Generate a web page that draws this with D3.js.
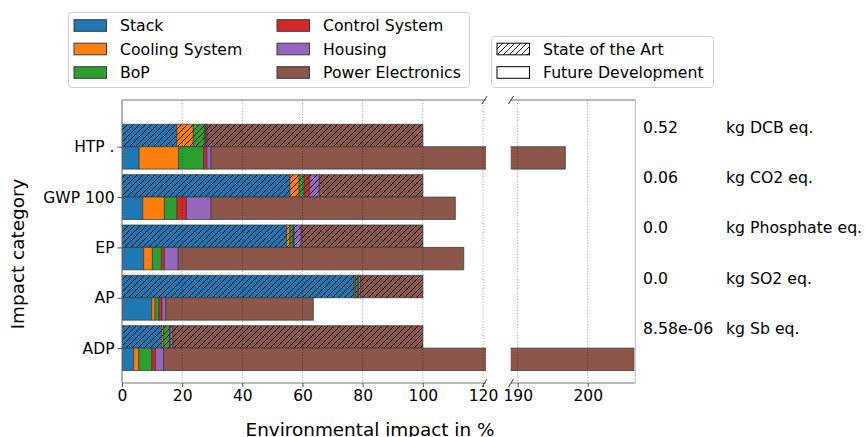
<!DOCTYPE html>
<html>
<head>
<meta charset="utf-8">
<script src="https://cdn.jsdelivr.net/npm/d3@7"></script>
<style>
  html, body { margin: 0; padding: 0; background: #fff; }
  svg { display: block; font-family: "DejaVu Sans", sans-serif; }
</style>
</head>
<body>
<svg id="chart" width="866" height="437"></svg>
<script>
// Impact categories (top to bottom)
const categories = ["HTP .", "GWP 100", "EP", "AP", "ADP"];
const components = ["Stack", "Cooling System", "BoP", "Control System", "Housing", "Power Electronics"];
const componentColors = ["#1f77b4", "#ff7f0e", "#2ca02c", "#d62728", "#9467bd", "#8c564b"];

// State of the Art shares, % (each row sums to 100)
const sotaStack   = [18.2, 55.8, 54.7, 77.2, 13.2];
const sotaCooling = [5.5, 3.1, 1.1, 0.4, 0.6];
const sotaBoP     = [3.8, 1.7, 1.1, 0.8, 2.0];
const sotaControl = [0.3, 1.7, 0.3, 0.2, 0.2];
const sotaHousing = [0.4, 3.3, 2.4, 0.7, 0.9];
const sotaPower   = [71.8, 34.4, 40.4, 20.7, 83.1];

// Future Development shares, % relative to State of the Art
const futStack   = [5.7, 6.9, 7.2, 9.9, 3.9];
const futCooling = [13.1, 7.2, 2.9, 1.1, 1.7];
const futBoP     = [8.3, 4.2, 3.0, 1.3, 4.3];
const futControl = [1.1, 3.1, 1.0, 1.0, 1.2];
const futHousing = [1.4, 8.2, 4.6, 1.3, 2.7];
const futPower   = [167.2, 81.2, 94.9, 49.0, 192.8];

// Absolute State of the Art impact per category
const absValues = ["0.52", "0.06", "0.0", "0.0", "8.58e-06"];
const absUnits  = ["kg DCB eq.", "kg CO2 eq.", "kg Phosphate eq.", "kg SO2 eq.", "kg Sb eq."];

// Axis ticks for the broken x axis
const leftTicks  = [0, 20, 40, 60, 80, 100, 120];
const rightTicks = [190, 200];

const sotaSeries = [sotaStack, sotaCooling, sotaBoP, sotaControl, sotaHousing, sotaPower];
const futSeries  = [futStack, futCooling, futBoP, futControl, futHousing, futPower];

const svg = d3.select("#chart");
const FONT_TICK = 15.5;
const FONT_LEG = 15.7;
const FONT_LABEL = 18.4;

// Layout
const plotTop = 100, plotBottom = 383;
const xLeft  = d3.scaleLinear().domain([0, 121]).range([122, 486]);
const xRight = d3.scaleLinear().domain([189, 206.8]).range([510.7, 635.3]);
const y = d3.scaleLinear().domain([-0.9275, 4.693]).range([plotTop, plotBottom]);
const barH = 0.445;

// Hatch patterns
const defs = svg.append("defs");
function hatch(id, color) {
  const p = defs.append("pattern")
    .attr("id", id).attr("patternUnits", "userSpaceOnUse")
    .attr("width", 6).attr("height", 6);
  p.append("rect").attr("width", 6).attr("height", 6).attr("fill", color);
  p.append("path").attr("d", "M0,6 L6,0 M-1.5,1.5 L1.5,-1.5 M4.5,7.5 L7.5,4.5")
    .attr("stroke", "#000").attr("stroke-width", 0.9);
}
componentColors.forEach((c, i) => hatch("h" + i, c));
hatch("hwhite", "#fff");

// Clip paths for the two panels
defs.append("clipPath").attr("id", "clipL").append("rect")
  .attr("x", xLeft.range()[0]).attr("y", plotTop).attr("width", xLeft.range()[1] - xLeft.range()[0]).attr("height", plotBottom - plotTop);
defs.append("clipPath").attr("id", "clipR").append("rect")
  .attr("x", xRight.range()[0]).attr("y", plotTop).attr("width", xRight.range()[1] - xRight.range()[0]).attr("height", plotBottom - plotTop);

// Build stacked segments
const segments = [];
categories.forEach((cat, i) => {
  let acc = 0;
  sotaSeries.forEach((s, k) => {
    segments.push({ i, k, x0: acc, x1: acc + s[i], y0: i - barH, y1: i, hatched: true });
    acc += s[i];
  });
  acc = 0;
  futSeries.forEach((s, k) => {
    segments.push({ i, k, x0: acc, x1: acc + s[i], y0: i, y1: i + barH, hatched: false });
    acc += s[i];
  });
});

function drawPanel(x, clipId) {
  const g = svg.append("g").attr("clip-path", `url(#${clipId})`);
  g.selectAll("rect").data(segments).join("rect")
    .attr("x", d => x(d.x0))
    .attr("width", d => Math.max(0, x(d.x1) - x(d.x0)))
    .attr("y", d => y(d.y0))
    .attr("height", d => y(d.y1) - y(d.y0))
    .attr("fill", d => d.hatched ? `url(#h${d.k})` : componentColors[d.k])
    .attr("stroke", "#3a3a3a").attr("stroke-opacity", 0.75).attr("stroke-width", 1);
}
drawPanel(xLeft, "clipL");
drawPanel(xRight, "clipR");

// Grid lines drawn on top
function grid(x, ticks) {
  svg.append("g").selectAll("line").data(ticks).join("line")
    .attr("x1", d => x(d)).attr("x2", d => x(d))
    .attr("y1", plotTop).attr("y2", plotBottom)
    .attr("stroke", "#000").attr("stroke-opacity", 0.35)
    .attr("stroke-width", 1).attr("stroke-dasharray", "1.2,1.6");
}
grid(xLeft, leftTicks);
grid(xRight, rightTicks);

// Spines
const spine = "#777";
svg.append("line").attr("x1", xLeft.range()[0]).attr("x2", xLeft.range()[1]).attr("y1", plotTop).attr("y2", plotTop).attr("stroke", spine);
svg.append("line").attr("x1", xLeft.range()[0]).attr("x2", xLeft.range()[1]).attr("y1", plotBottom).attr("y2", plotBottom).attr("stroke", spine);
svg.append("line").attr("x1", xLeft.range()[0]).attr("x2", xLeft.range()[0]).attr("y1", plotTop).attr("y2", plotBottom).attr("stroke", spine);
svg.append("line").attr("x1", xRight.range()[0]).attr("x2", xRight.range()[1]).attr("y1", plotTop).attr("y2", plotTop).attr("stroke", spine);
svg.append("line").attr("x1", xRight.range()[0]).attr("x2", xRight.range()[1]).attr("y1", plotBottom).attr("y2", plotBottom).attr("stroke", spine);
svg.append("line").attr("x1", xRight.range()[1]).attr("x2", xRight.range()[1]).attr("y1", plotTop).attr("y2", plotBottom).attr("stroke", "#bbb");

// Break marks
function brk(cx, cy) {
  svg.append("line").attr("x1", cx - 2.5).attr("y1", cy + 4).attr("x2", cx + 2.5).attr("y2", cy - 4)
    .attr("stroke", "#333").attr("stroke-width", 1);
}
brk(484.5, plotTop); brk(484.5, plotBottom);
brk(511, plotTop); brk(511, plotBottom);

// X axes
const axL = svg.append("g").attr("transform", `translate(0,${plotBottom})`)
  .call(d3.axisBottom(xLeft).tickValues(leftTicks).tickSize(4).tickPadding(3));
const axR = svg.append("g").attr("transform", `translate(0,${plotBottom})`)
  .call(d3.axisBottom(xRight).tickValues(rightTicks).tickSize(4).tickPadding(3));
[axL, axR].forEach(a => {
  a.select(".domain").remove();
  a.selectAll(".tick line").attr("stroke", "#555");
  a.selectAll(".tick text").attr("font-size", FONT_TICK).attr("font-family", "DejaVu Sans").attr("fill", "#000");
});

// Y axis
const axY = svg.append("g").attr("transform", `translate(${xLeft.range()[0]},0)`)
  .call(d3.axisLeft(y).tickValues(d3.range(categories.length)).tickFormat(i => categories[i]).tickSize(4.5).tickPadding(3));
axY.select(".domain").remove();
axY.selectAll(".tick line").attr("stroke", "#555");
axY.selectAll(".tick text").attr("font-size", FONT_TICK).attr("font-family", "DejaVu Sans").attr("fill", "#000");

// Axis labels
svg.append("text").attr("x", 370).attr("y", 436).attr("text-anchor", "middle")
  .attr("font-size", FONT_LABEL).text("Environmental impact in %");
svg.append("text").attr("transform", "translate(24,254) rotate(-90)").attr("text-anchor", "middle")
  .attr("font-size", FONT_LABEL).text("Impact category");

// Absolute values at right
categories.forEach((c, i) => {
  svg.append("text").attr("x", 643).attr("y", y(i - 0.39) + 5.6).attr("font-size", FONT_LEG).text(absValues[i]);
  svg.append("text").attr("x", 726).attr("y", y(i - 0.39) + 5.6).attr("font-size", FONT_LEG).text(absUnits[i]);
});

// Component legend
const leg1 = svg.append("g");
leg1.append("rect").attr("x", 68.5).attr("y", 12.5).attr("width", 401).attr("height", 75).attr("rx", 3)
  .attr("fill", "#fff").attr("stroke", "#d0d0d0");
components.forEach((name, k) => {
  const col = Math.floor(k / 3), row = k % 3;
  const lx = col === 0 ? 74 : 277;
  const cy = 25.5 + row * 23.5;
  leg1.append("rect").attr("x", lx).attr("y", cy - 5.8).attr("width", 32.5).attr("height", 11.6)
    .attr("fill", componentColors[k]).attr("stroke", "#3a3a3a").attr("stroke-width", 1);
  leg1.append("text").attr("x", lx + 46).attr("y", cy + 5.6).attr("font-size", FONT_LEG).text(name);
});

// Scenario legend
const scenarios = ["State of the Art", "Future Development"];
const leg2 = svg.append("g");
leg2.append("rect").attr("x", 491.5).attr("y", 36.5).attr("width", 222).attr("height", 51).attr("rx", 3)
  .attr("fill", "#fff").attr("stroke", "#d0d0d0");
scenarios.forEach((name, r) => {
  const cy = 49 + r * 23.5;
  leg2.append("rect").attr("x", 497).attr("y", cy - 5.8).attr("width", 32.5).attr("height", 11.6)
    .attr("fill", r === 0 ? "url(#hwhite)" : "#fff").attr("stroke", "#000").attr("stroke-width", 1);
  leg2.append("text").attr("x", 543).attr("y", cy + 5.6).attr("font-size", FONT_LEG).text(name);
});
</script>
</body>
</html>
